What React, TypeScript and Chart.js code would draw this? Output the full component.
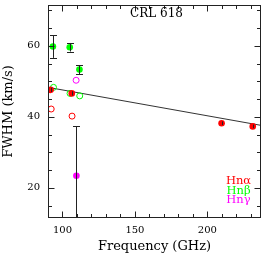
import React, { useEffect, useRef } from "react";
import { Chart, registerables } from "chart.js";

Chart.register(...registerables);

// ---- data ----
const ALPHA_FILLED_FREQ = [91.8, 106.4, 209.8, 231.3];
const ALPHA_FILLED_FWHM = [47.6, 46.6, 38.2, 37.3];
const ALPHA_FILLED_ERR = [0.6, 0.6, 0.5, 0.5];
const ALPHA_OPEN_FREQ = [92.2, 106.6];
const ALPHA_OPEN_FWHM = [42.2, 40.2];
const BETA_FILLED_FREQ = [93.4, 105.0, 111.7];
const BETA_FILLED_FWHM = [59.8, 59.6, 53.3];
const BETA_FILLED_ERR = [3.2, 1.2, 1.3];
const BETA_OPEN_FREQ = [93.8, 105.2, 111.9];
const BETA_OPEN_FWHM = [48.3, 46.6, 45.9];
const GAMMA_FILLED_FREQ = [109.6];
const GAMMA_FILLED_FWHM = [23.4];
const GAMMA_FILLED_ERR = [13.9];
const GAMMA_OPEN_FREQ = [109.4];
const GAMMA_OPEN_FWHM = [50.3];
const FIT_FREQ = [90, 237];
const FIT_FWHM = [48.3, 37.6];

const X_TICKS = [100, 150, 200];
const Y_TICKS = [20, 40, 60];
const X_MINOR = [90, 100, 110, 120, 130, 140, 150, 160, 170, 180, 190, 200, 210, 220, 230];
const Y_MINOR = [15, 20, 25, 30, 35, 40, 45, 50, 55, 60, 65, 70];

const TITLE = "CRL 618";
const LEGEND_LABELS = ["Hnα", "Hnβ", "Hnγ"];
const LEGEND_COLORS = ["#ff0000", "#00ff00", "#ff00ff"];

const FONT = "'DejaVu Serif', serif";

const pts = (xs: number[], ys: number[]) => xs.map((x, i) => ({ x, y: ys[i] }));

const decorPlugin = {
  id: "decor",
  afterDatasetsDraw(chart: any) {
    const { ctx, chartArea: a, scales } = chart;
    const xs = scales.x, ys = scales.y;
    // error bars
    ctx.save();
    ctx.beginPath();
    ctx.rect(a.left, a.top, a.right - a.left, a.bottom - a.top);
    ctx.clip();
    chart.data.datasets.forEach((ds: any) => {
      if (!ds.err) return;
      ctx.strokeStyle = "#222";
      ctx.lineWidth = 1;
      ds.data.forEach((p: any, i: number) => {
        const e = ds.err[i];
        const px = Math.round(xs.getPixelForValue(p.x)) + 0.5;
        const y1 = ys.getPixelForValue(p.y + e);
        const y2 = ys.getPixelForValue(p.y - e);
        ctx.beginPath();
        ctx.moveTo(px, y1);
        ctx.lineTo(px, y2);
        if (e > 1) {
          ctx.moveTo(px - 3.5, Math.round(y1) + 0.5);
          ctx.lineTo(px + 3.5, Math.round(y1) + 0.5);
          ctx.moveTo(px - 3.5, Math.round(y2) + 0.5);
          ctx.lineTo(px + 3.5, Math.round(y2) + 0.5);
        }
        ctx.stroke();
      });
    });
    ctx.restore();

    // frame and ticks
    ctx.save();
    ctx.strokeStyle = "#222";
    ctx.lineWidth = 1;
    const L = Math.round(a.left) + 0.5, R = Math.round(a.right) - 0.5;
    const T = Math.round(a.top) + 0.5, B = Math.round(a.bottom) - 0.5;
    ctx.strokeRect(L, T, R - L, B - T);
    ctx.beginPath();
    X_MINOR.forEach((v) => {
      const len = X_TICKS.includes(v) ? 6 : 3.5;
      const px = Math.round(xs.getPixelForValue(v)) + 0.5;
      ctx.moveTo(px, B); ctx.lineTo(px, B - len);
      ctx.moveTo(px, T); ctx.lineTo(px, T + len);
    });
    Y_MINOR.forEach((v) => {
      const len = Y_TICKS.includes(v) ? 6 : 3.5;
      const py = Math.round(ys.getPixelForValue(v)) + 0.5;
      ctx.moveTo(L, py); ctx.lineTo(L + len, py);
      ctx.moveTo(R, py); ctx.lineTo(R - len, py);
    });
    ctx.stroke();

    // title
    ctx.fillStyle = "#000";
    ctx.font = `12px ${FONT}`;
    ctx.textAlign = "center";
    ctx.textBaseline = "middle";
    ctx.fillText(TITLE, 156.5, 14);

    // legend
    ctx.font = `11.5px ${FONT}`;
    LEGEND_LABELS.forEach((t, i) => {
      ctx.fillStyle = LEGEND_COLORS[i];
      ctx.fillText(t, 238.5, 181 + i * 9.6);
    });
    ctx.restore();
  },
};

export default function App() {
  const ref = useRef<HTMLCanvasElement | null>(null);
  useEffect(() => {
    document.body.style.margin = "0";
    const canvas = ref.current!;
    const chart = new Chart(canvas, {
      type: "scatter",
      data: {
        datasets: [
          {
            label: "fit",
            type: "line",
            data: pts(FIT_FREQ, FIT_FWHM),
            borderColor: "#333",
            borderWidth: 1,
            pointRadius: 0,
            showLine: true,
            order: 10,
          } as any,
          {
            label: "Hnα open",
            data: pts(ALPHA_OPEN_FREQ, ALPHA_OPEN_FWHM),
            pointRadius: 3,
            pointBackgroundColor: "rgba(0,0,0,0)",
            pointBorderColor: "#ff0000",
            pointBorderWidth: 1,
            order: 5,
          },
          {
            label: "Hnβ open",
            data: pts(BETA_OPEN_FREQ, BETA_OPEN_FWHM),
            pointRadius: 3,
            pointBackgroundColor: "rgba(0,0,0,0)",
            pointBorderColor: "#00ff00",
            pointBorderWidth: 1,
            order: 5,
          },
          {
            label: "Hnγ open",
            data: pts(GAMMA_OPEN_FREQ, GAMMA_OPEN_FWHM),
            pointRadius: 3,
            pointBackgroundColor: "rgba(0,0,0,0)",
            pointBorderColor: "#ff00ff",
            pointBorderWidth: 1,
            order: 5,
          },
          {
            label: "Hnα",
            data: pts(ALPHA_FILLED_FREQ, ALPHA_FILLED_FWHM),
            err: ALPHA_FILLED_ERR,
            pointRadius: 3.3,
            pointBackgroundColor: "#ff0000",
            pointBorderColor: "#ff0000",
            pointBorderWidth: 0,
            order: 1,
          } as any,
          {
            label: "Hnβ",
            data: pts(BETA_FILLED_FREQ, BETA_FILLED_FWHM),
            err: BETA_FILLED_ERR,
            pointRadius: 3.3,
            pointBackgroundColor: "#00ff00",
            pointBorderColor: "#00ff00",
            pointBorderWidth: 0,
            order: 1,
          } as any,
          {
            label: "Hnγ",
            data: pts(GAMMA_FILLED_FREQ, GAMMA_FILLED_FWHM),
            err: GAMMA_FILLED_ERR,
            pointRadius: 3.3,
            pointBackgroundColor: "#ff00ff",
            pointBorderColor: "#ff00ff",
            pointBorderWidth: 0,
            order: 1,
          } as any,
        ],
      },
      options: {
        animation: false,
        responsive: false,
        maintainAspectRatio: false,
        layout: { padding: { top: 1, right: 4, left: 0, bottom: 0 } },
        plugins: { legend: { display: false }, tooltip: { enabled: false } },
        scales: {
          x: {
            type: "linear",
            min: 90,
            max: 237,
            grid: { display: false, drawTicks: false },
            border: { display: false },
            ticks: { color: "#000", padding: 6, maxRotation: 0, font: { family: FONT, size: 10 } },
            afterBuildTicks: (s: any) => { s.ticks = X_TICKS.map((v) => ({ value: v })); },
            afterFit: (s: any) => { s.height = 35; s.paddingLeft = 0; s.paddingRight = 0; s.paddingTop = 0; s.paddingBottom = 0; },
            title: { display: true, text: "Frequency (GHz)", color: "#000", font: { family: FONT, size: 13, lineHeight: 1 }, padding: { top: 0, bottom: 0 } },
          },
          y: {
            type: "linear",
            min: 11.5,
            max: 71.5,
            grid: { display: false, drawTicks: false },
            border: { display: false },
            ticks: { color: "#000", padding: 8, font: { family: FONT, size: 10 } },
            afterBuildTicks: (s: any) => { s.ticks = Y_TICKS.map((v) => ({ value: v })); },
            afterFit: (s: any) => { s.width = 48; s.paddingLeft = 0; s.paddingRight = 0; s.paddingTop = 0; s.paddingBottom = 0; },
            title: { display: true, text: "FWHM (km/s)", color: "#000", font: { family: FONT, size: 13, lineHeight: 1 }, padding: { top: 2, bottom: 0 } },
          },
        },
      } as any,
      plugins: [decorPlugin],
    });
    return () => chart.destroy();
  }, []);
  return (
    <div style={{ width: 266, height: 253 }}>
      <canvas ref={ref} width={266} height={253} style={{ display: "block" }} />
    </div>
  );
}
